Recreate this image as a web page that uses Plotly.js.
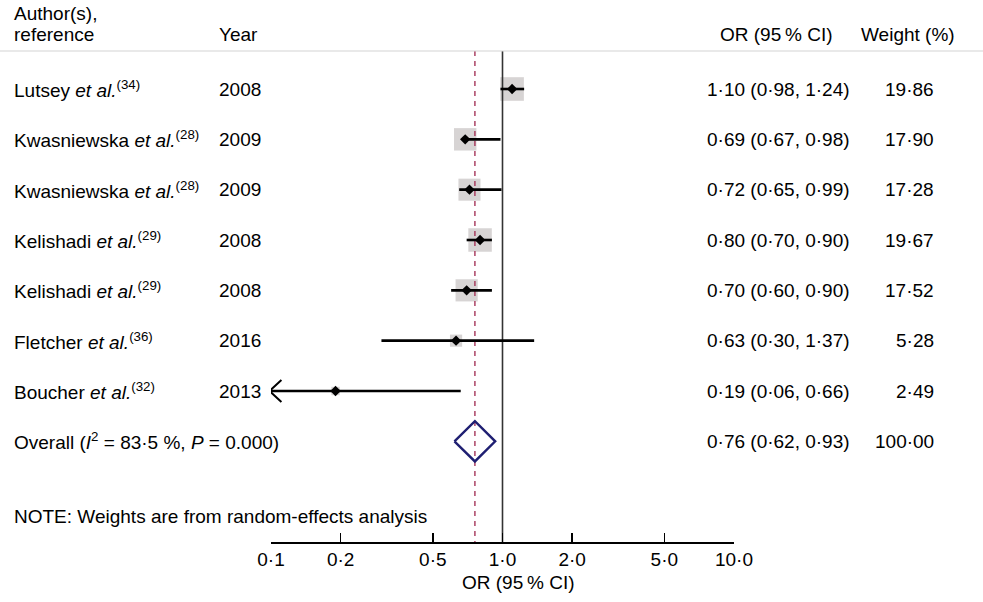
<!DOCTYPE html>
<html>
<head>
<meta charset="utf-8">
<script src="https://cdn.plot.ly/plotly-3.0.1.min.js"></script>
<style>html,body{margin:0;padding:0;background:#fff;}#chart{width:983px;height:602px;}</style>
</head>
<body>
<div id="chart"></div>
<script>
// ---- data ----
const authors = ['Lutsey', 'Kwasniewska', 'Kwasniewska', 'Kelishadi', 'Kelishadi', 'Fletcher', 'Boucher'];
const refs = ['34', '28', '28', '29', '29', '36', '32'];
const years = ['2008', '2009', '2009', '2008', '2008', '2016', '2013'];
const orValues = [1.10, 0.69, 0.72, 0.80, 0.70, 0.63, 0.19];
const ciLow = [0.98, 0.67, 0.65, 0.70, 0.60, 0.30, 0.06];
const ciHigh = [1.24, 0.98, 0.99, 0.90, 0.90, 1.37, 0.66];
const weights = [19.86, 17.90, 17.28, 19.67, 17.52, 5.28, 2.49];
const overallOR = 0.76, overallLow = 0.62, overallHigh = 0.93, overallWeight = 100.00;
const overallLabel = 'Overall (<i>I</i><sup>2</sup> = 83·5 %, <i>P</i> = 0.000)';
const tickVals = [0.1, 0.2, 0.5, 1, 2, 5, 10];
const tickText = ['0·1', '0·2', '0·5', '1·0', '2·0', '5·0', '10·0'];
const xMin = 0.1, xMax = 10;

// ---- helpers ----
const fmt = v => v.toFixed(2).replace('.', '·');
const FONT = 'Liberation Sans, Arial, Helvetica, sans-serif';
const FS = 19;
const W = 983, H = 602, ML = 271, MR = 249, MT = 51, MB = 60;
const PW = W - ML - MR, PH = H - MT - MB;
const pxX = px => (px - ML) / PW;
const pxY = py => (H - MB - py) / PH;

const nRows = authors.length;
const rows = authors.map((_, i) => i);
const overallRow = nRows;
const yTop = -0.755, yBottom = 9.0;

// CI segments (clipped at axis min)
const ciX = [], ciY = [];
const arrowX = [], arrowY = [];
rows.forEach(i => {
  const lo = Math.max(ciLow[i], xMin);
  ciX.push(lo, Math.min(ciHigh[i], xMax), null);
  ciY.push(i, i, null);
  if (ciLow[i] < xMin) {
    const arm = Math.pow(10, Math.log10(xMin) + 0.045);
    arrowX.push(arm, xMin * 0.985, arm, null);
    arrowY.push(i - 0.22, i, i + 0.22, null);
  }
});

const traces = [
  { // weight squares
    type: 'scatter', mode: 'markers', x: orValues, y: rows,
    marker: { symbol: 'square', size: weights.map(w => 5.3 * Math.sqrt(w)), color: '#c6c2c2', line: { width: 0 } },
    hoverinfo: 'skip'
  },
  { // null line
    type: 'scatter', mode: 'lines', x: [1, 1], y: [yTop, yBottom],
    line: { color: '#333333', width: 1.6 }, hoverinfo: 'skip'
  },
  { // overall effect line
    type: 'scatter', mode: 'lines', x: [overallOR, overallOR], y: [yTop, yBottom],
    line: { color: '#a5355a', width: 1.4, dash: '5px,5px' }, hoverinfo: 'skip'
  },
  { // CIs
    type: 'scatter', mode: 'lines', x: ciX, y: ciY,
    line: { color: '#000', width: 2.6 }, hoverinfo: 'skip'
  },
  { // arrows
    type: 'scatter', mode: 'lines', x: arrowX, y: arrowY,
    line: { color: '#000', width: 2 }, hoverinfo: 'skip'
  },
  { // point estimates
    type: 'scatter', mode: 'markers', x: orValues, y: rows,
    marker: { symbol: 'diamond', size: 8, color: '#000' }, hoverinfo: 'skip'
  },
  { // overall diamond
    type: 'scatter', mode: 'lines',
    x: [overallLow, overallOR, overallHigh, overallOR, overallLow],
    y: [overallRow, overallRow - 0.4, overallRow, overallRow + 0.4, overallRow],
    line: { color: '#1f1f72', width: 2.4 }, hoverinfo: 'skip'
  }
];

const ann = [];
const addText = (text, x, y, yref, xanchor) => ann.push({
  text, x, y, xref: 'paper', yref, xanchor, yanchor: 'middle', showarrow: false,
  font: { family: FONT, size: FS, color: '#000' }
});
// headers
addText('Author(s),', pxX(12), pxY(13), 'paper', 'left');
addText('reference', pxX(12), pxY(34), 'paper', 'left');
addText('Year', pxX(217), pxY(34), 'paper', 'left');
addText('OR (95\u2009% CI)', pxX(718), pxY(34), 'paper', 'left');
addText('Weight (%)', pxX(859), pxY(34), 'paper', 'left');
// rows
rows.forEach(i => {
  addText(authors[i] + ' <i>et al.</i><sup>(' + refs[i] + ')</sup>', pxX(12), i, 'y', 'left');
  addText(years[i], pxX(217), i, 'y', 'left');
  addText(fmt(orValues[i]) + ' (' + fmt(ciLow[i]) + ', ' + fmt(ciHigh[i]) + ')', pxX(705), i, 'y', 'left');
  addText(fmt(weights[i]), pxX(936), i, 'y', 'right');
});
addText(overallLabel, pxX(12), overallRow, 'y', 'left');
addText(fmt(overallOR) + ' (' + fmt(overallLow) + ', ' + fmt(overallHigh) + ')', pxX(705), overallRow, 'y', 'left');
addText(fmt(overallWeight), pxX(936), overallRow, 'y', 'right');
addText('NOTE: Weights are from random-effects analysis', pxX(12), pxY(516), 'paper', 'left');
// axis title (offset from plot centre as in the reference)
addText('OR (95\u2009% CI)', pxX(518), pxY(582), 'paper', 'center');

const layout = {
  width: W, height: H,
  margin: { l: ML, r: MR, t: MT, b: MB, pad: 0 },
  paper_bgcolor: '#fff', plot_bgcolor: '#fff',
  showlegend: false,
  font: { family: FONT, size: FS, color: '#000' },
  xaxis: {
    type: 'log', range: [Math.log10(xMin), Math.log10(xMax)],
    tickvals: tickVals, ticktext: tickText,
    ticks: 'inside', ticklen: 9, tickwidth: 1.5, tickcolor: '#000',
    showline: true, linecolor: '#000', linewidth: 1.5,
    showgrid: false, zeroline: false,
    tickfont: { family: FONT, size: FS, color: '#000' },
    fixedrange: true
  },
  yaxis: { range: [yBottom, yTop], visible: false, fixedrange: true },
  shapes: [{
    type: 'line', xref: 'paper', yref: 'paper', x0: pxX(0), x1: pxX(W), y0: 1, y1: 1,
    line: { color: '#d4d4d4', width: 1.2 }
  }],
  annotations: ann
};

Plotly.newPlot('chart', traces, layout, { displayModeBar: false, staticPlot: true });
</script>
</body>
</html>
